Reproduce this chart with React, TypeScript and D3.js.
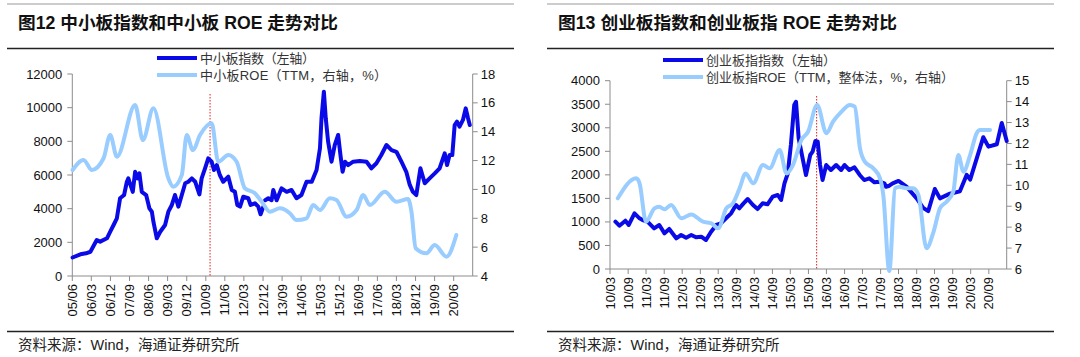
import React from 'react';
import * as d3 from 'd3';

// ---------- 图12 中小板 ----------
const smeIndexDates = [
  '2005-06-05','2005-09-25','2005-12-15','2006-02-16','2006-05-18','2006-07-06','2006-10-12','2006-11-28',
  '2007-01-15','2007-03-03','2007-04-18','2007-06-15','2007-07-25','2007-08-15','2007-10-18','2007-11-21',
  '2007-12-24','2008-01-21','2008-02-24','2008-04-27','2008-06-12','2008-07-18','2008-08-09','2008-09-27',
  '2008-11-15','2009-01-24','2009-03-12','2009-05-01','2009-06-15','2009-08-03','2009-09-21','2009-11-09',
  '2009-12-24','2010-02-12','2010-04-01','2010-06-01','2010-07-03','2010-08-21','2010-10-06','2010-11-24',
  '2010-12-27','2011-02-06','2011-03-21','2011-05-09','2011-07-21','2011-09-09','2011-10-24','2011-11-27',
  '2012-01-06','2012-02-21','2012-05-03','2012-06-06','2012-08-06','2012-09-24','2012-10-27','2012-12-06',
  '2012-12-20',
  '2013-01-01','2013-02-15','2013-04-03','2013-04-27','2013-06-15','2013-08-24','2013-11-06','2014-01-15',
  '2014-03-27','2014-06-06','2014-08-18','2014-11-01','2015-01-09','2015-02-27','2015-03-21','2015-04-24',
  '2015-05-21','2015-06-24','2015-08-12','2015-09-27','2015-11-15','2015-12-18','2016-01-18','2016-02-21',
  '2016-04-06','2016-06-18','2016-09-21','2016-12-27','2017-03-06','2017-05-18','2017-07-27','2017-10-09',
  '2017-12-21','2018-03-01','2018-05-12','2018-07-21','2018-09-09','2018-10-24','2018-12-12','2019-02-09',
  '2019-04-12','2019-06-21','2019-09-03','2019-11-12','2020-01-24','2020-02-27','2020-04-03','2020-05-12',
  '2020-06-15','2020-07-18','2020-08-24','2020-10-12','2020-11-21','2020-12-24','2021-01-18',
];
const smeIndexValues: (number | null)[] = [
  1100, 1290, 1350, 1440, 2140, 2040, 2240, 2630,
  3030, 3430, 4615, 4810, 5600, 5800, 5000, 6190,
  5800, 6100, 5000, 4810, 4020, 3820, 3225, 2240,
  2630, 3030, 3820, 4220, 4810, 4120, 4810, 5510,
  5600, 5800, 5600, 4850, 5800, 6400, 6990, 6790,
  6300, 6590, 6000, 5600, 5900, 5110, 5000, 4220,
  4120, 4710, 4620, 4220, 4320, 4120, 3665, 4120,
  null,
  4500, 4620, 4500, 5110, 4500, 5210, 5000, 5110,
  4620, 4810, 5600, 5600, 6300, 7590, 9370, 10950,
  9370, 7980, 6790, 7780, 8380, 7190, 6190, 6790,
  6590, 6790, 6830, 6790, 6400, 6700, 7190, 7780,
  7480, 7380, 6790, 6190, 5410, 5000, 4810, 6400,
  5510, 5800, 6100, 6400, 7290, 6590, 7190, 7190,
  8970, 9170, 8870, 9270, 9960, 9370, 8970,
];
const smeRoeDates = [
  '2005-06-05','2005-11-10','2006-03-10','2006-08-24','2006-11-28','2007-03-03','2007-11-21','2008-03-10',
  '2008-08-09','2009-03-12','2009-05-21','2009-09-21','2009-12-01','2010-02-27','2010-06-10','2010-11-24',
  '2011-02-27','2011-07-21','2011-11-18','2012-03-15','2012-08-06','2012-11-12','2013-03-09','2013-08-01',
  '2013-12-21','2014-03-27','2014-08-18','2014-11-21','2015-02-27','2015-07-18','2015-10-21','2016-03-15',
  '2016-08-06','2016-11-09','2017-02-12','2017-09-15','2018-03-01','2018-08-15','2018-10-03','2018-12-03',
  '2019-05-06','2019-09-03','2020-02-18','2020-07-09',
];
const smeRoeValues = [
  11.35, 12.04, 11.35, 12.16, 13.77, 12.27, 15.85, 13.42,
  15.62, 10.77, 10.19, 11.0, 13.77, 12.73, 13.77, 14.58,
  11.92, 12.39, 11.92, 10.08, 9.73, 9.15, 8.46, 8.69,
  8.35, 7.88, 8.0, 8.92, 8.57, 9.38, 9.27, 8.11,
  8.57, 9.61, 8.92, 9.84, 9.15, 9.34, 8.46, 5.92,
  5.57, 6.15, 5.34, 6.84,
];
const smeTickLabels = ['05/06','06/03','06/12','07/09','08/06','09/03','09/12','10/09','11/06','12/03','12/12',
  '13/09','14/06','15/03','15/12','16/09','17/06','18/03','18/12','19/09','20/06'];
const smeLeftTicks = [0, 2000, 4000, 6000, 8000, 10000, 12000];
const smeRightTicks = [4, 6, 8, 10, 12, 14, 16, 18];

// ---------- 图13 创业板 ----------
const gemIndexDates = [
  '2010-04-25','2010-06-04','2010-08-04','2010-09-07','2010-11-04','2010-12-25','2011-01-25','2011-03-16',
  '2011-05-22','2011-07-13','2011-09-04','2011-10-22','2012-01-01','2012-02-19','2012-04-10','2012-06-01',
  '2012-07-19','2012-09-10','2012-10-28','2012-12-19','2013-02-10','2013-03-28','2013-05-19','2013-07-10',
  '2013-08-28','2013-10-01','2013-11-13','2013-12-25','2014-02-16','2014-04-04','2014-05-25','2014-07-13',
  '2014-09-04','2014-10-25','2014-11-28','2015-01-01','2015-02-04','2015-03-07','2015-04-10','2015-04-28',
  '2015-05-25','2015-07-04','2015-08-07','2015-09-19','2015-10-13','2015-11-10','2015-12-04','2015-12-28',
  '2016-01-22','2016-02-28','2016-04-16','2016-06-07','2016-07-28','2016-09-01','2016-10-19','2016-12-10',
  '2017-02-01','2017-03-19','2017-05-10','2017-07-01','2017-08-19','2017-10-10','2017-10-25','2017-11-28',
  '2018-01-01','2018-03-01','2018-05-21','2018-09-01','2018-11-06','2018-12-27','2019-03-04','2019-04-25',
  '2019-08-04','2019-11-13','2020-01-21','2020-02-25','2020-07-07','2020-08-28','2020-11-21','2021-01-10',
  '2021-03-01',
];
const gemIndexValues = [
  1005, 920, 1026, 935, 1183, 1077, 1041, 1005,
  864, 935, 758, 850, 652, 722, 665, 722,
  673, 686, 616, 792, 935, 970, 1077, 1183,
  1359, 1289, 1395, 1487, 1359, 1274, 1395, 1374,
  1536, 1572, 1466, 1820, 2033, 2634, 3483, 3553,
  2776, 2351, 1997, 2421, 2492, 2719, 2704, 2209,
  1890, 2209, 2103, 2209, 2103, 2209, 2103, 2160,
  1997, 1890, 1926, 1841, 1854, 1820, 1748, 1769,
  1820, 1870, 1750, 1500, 1300, 1230, 1700, 1500,
  1600, 1650, 2000, 1900, 2800, 2600, 2650, 3100,
  2720,
];
const gemRoeDates = [
  '2010-05-19','2010-11-21','2010-12-25','2011-03-01','2011-05-25','2011-07-13','2011-09-04','2011-11-10',
  '2012-02-22','2012-06-01','2012-09-28','2012-12-22','2013-02-28','2013-05-22','2013-07-28','2013-10-04',
  '2013-12-04','2014-02-19','2014-05-28','2014-08-04','2014-11-13','2015-01-22','2015-03-28','2015-06-22',
  '2015-08-28','2015-11-28','2016-03-01','2016-05-07','2016-08-01','2016-10-25','2016-12-13','2017-02-04',
  '2017-03-25','2017-06-19','2017-08-25','2017-09-28','2017-11-28','2018-01-25','2018-03-13','2018-05-21',
  '2018-07-28','2018-09-19','2018-12-10','2019-02-19','2019-04-25','2019-07-01','2019-09-07','2019-10-28',
  '2019-12-19','2020-02-25','2020-05-01','2020-06-04','2020-09-13',
];
const gemRoeValues = [
  9.38, 10.34, 10.10, 8.26, 8.9, 8.98, 8.85, 9.06,
  8.42, 8.61, 8.26, 8.18, 7.95, 8.9, 9.14, 9.86,
  10.57, 10.10, 10.97, 10.81, 11.69, 10.57, 10.97, 12.17,
  12.56, 13.84, 12.49, 13.04, 13.52, 13.84, 13.76, 11.77,
  11.13, 10.81, 10.34, 9.54, 5.9, 9.86, 9.93, 9.86,
  9.86, 9.54, 6.99, 7.78, 8.9, 9.22, 9.70, 11.45,
  10.65, 11.45, 12.49, 12.64, 12.64,
];
const gemTickLabels = ['10/03','10/09','11/03','11/09','12/03','12/09','13/03','13/09','14/03','14/09',
  '15/03','15/09','16/03','16/09','17/03','17/09','18/03','18/09','19/03','19/09','20/03','20/09'];
const gemLeftTicks = [0, 500, 1000, 1500, 2000, 2500, 3000, 3500, 4000];
const gemRightTicks = [6, 7, 8, 9, 10, 11, 12, 13, 14, 15];

const parse = d3.timeParse('%Y-%m-%d');
const parseTick = (s: string) => parse('20' + s.slice(0, 2) + '-' + s.slice(3, 5) + '-01') as Date;

const INDEX_COLOR = '#0a0ae8';
const ROE_COLOR = '#99ccff';
const AXIS_COLOR = '#8c8c8c';
const LABEL_FONT = '"Liberation Sans", Arial, "Noto Sans CJK SC", sans-serif';
const CJK_FONT = '"Liberation Sans", "Noto Sans CJK SC", sans-serif';

type PanelProps = {
  ox: number;
  title: string;
  titleWidth: number;
  legend1: string;
  legend2: string;
  legend1Width: number;
  legend2Width: number;
  legendX: number;
  legendY1: number;
  legendY2: number;
  idxDates: string[];
  idxVals: (number | null)[];
  roeDates: string[];
  roeVals: number[];
  xStart: string;
  xEnd: string;
  xLeft: number;
  xRight: number;
  yTop: number;
  yBottom: number;
  leftTicks: number[];
  rightTicks: number[];
  tickLabels: string[];
  marker: string;
  markerTop: number;
};

function Panel(p: PanelProps) {
  const x = d3.scaleTime().domain([parse(p.xStart) as Date, parse(p.xEnd) as Date]).range([p.xLeft, p.xRight]);
  const yL = d3.scaleLinear().domain([p.leftTicks[0], p.leftTicks[p.leftTicks.length - 1]]).range([p.yBottom, p.yTop]);
  const yR = d3.scaleLinear().domain([p.rightTicks[0], p.rightTicks[p.rightTicks.length - 1]]).range([p.yBottom, p.yTop]);

  const idxData = p.idxDates.map((d, i) => ({ d: parse(d) as Date, v: p.idxVals[i] }));
  const roeData = p.roeDates.map((d, i) => ({ d: parse(d) as Date, v: p.roeVals[i] }));

  const idxLine = d3.line<{ d: Date; v: number | null }>()
    .defined((e) => e.v !== null)
    .x((e) => x(e.d))
    .y((e) => yL(e.v as number))
    .curve(d3.curveLinear);
  const roeLine = d3.line<{ d: Date; v: number }>()
    .x((e) => x(e.d))
    .y((e) => yR(e.v))
    .curve(d3.curveMonotoneX);

  const mx = x(parse(p.marker) as Date);
  const ox = p.ox;

  return (
    <g>
      {/* header rules and title */}
      <line x1={ox + 7} x2={ox + 514} y1={4} y2={4} stroke="#9a9a9a" strokeWidth={1} />
      <text x={ox + 18} y={23} fontFamily={CJK_FONT} fontSize={17.5} fontWeight={700} fill="#111"
        dominantBaseline="central" textLength={p.titleWidth} lengthAdjust="spacingAndGlyphs">
        {p.title}
      </text>
      <line x1={ox + 7} x2={ox + 514} y1={48.5} y2={48.5} stroke="#222" strokeWidth={1.3} />

      {/* legend */}
      <line x1={p.legendX} x2={p.legendX + 40} y1={p.legendY1} y2={p.legendY1} stroke={INDEX_COLOR} strokeWidth={4} />
      <text x={p.legendX + 43} y={p.legendY1} fontFamily={CJK_FONT} fontSize={13} fill="#333"
        dominantBaseline="central" textLength={p.legend1Width} lengthAdjust="spacing">{p.legend1}</text>
      <line x1={p.legendX} x2={p.legendX + 40} y1={p.legendY2} y2={p.legendY2} stroke={ROE_COLOR} strokeWidth={4} />
      <text x={p.legendX + 43} y={p.legendY2} fontFamily={CJK_FONT} fontSize={13} fill="#333"
        dominantBaseline="central" textLength={p.legend2Width} lengthAdjust="spacing">{p.legend2}</text>

      {/* axes */}
      <line x1={p.xLeft} x2={p.xLeft} y1={p.yTop} y2={p.yBottom} stroke={AXIS_COLOR} strokeWidth={1} />
      <line x1={p.xRight} x2={p.xRight} y1={p.yTop} y2={p.yBottom} stroke={AXIS_COLOR} strokeWidth={1} />
      <line x1={p.xLeft} x2={p.xRight} y1={p.yBottom} y2={p.yBottom} stroke={AXIS_COLOR} strokeWidth={1} />
      {p.leftTicks.map((t) => (
        <g key={'l' + t}>
          <line x1={p.xLeft - 5} x2={p.xLeft} y1={yL(t)} y2={yL(t)} stroke={AXIS_COLOR} />
          <text x={p.xLeft - 10} y={yL(t)} textAnchor="end" dominantBaseline="central" fontFamily={LABEL_FONT} fontSize={13} fill="#111">{t}</text>
        </g>
      ))}
      {p.rightTicks.map((t) => (
        <g key={'r' + t}>
          <line x1={p.xRight} x2={p.xRight + 5} y1={yR(t)} y2={yR(t)} stroke={AXIS_COLOR} />
          <text x={p.xRight + 8} y={yR(t)} textAnchor="start" dominantBaseline="central" fontFamily={LABEL_FONT} fontSize={13} fill="#111">{t}</text>
        </g>
      ))}
      {p.tickLabels.map((lab) => {
        const tx = x(parseTick(lab));
        return (
          <g key={'x' + lab}>
            <line x1={tx} x2={tx} y1={p.yBottom} y2={p.yBottom + 5} stroke={AXIS_COLOR} />
            <text
              transform={`translate(${tx},${p.yBottom + 8}) rotate(-90)`}
              textAnchor="end"
              dominantBaseline="central"
              fontFamily={LABEL_FONT}
              fontSize={13}
              fill="#111"
            >
              {lab}
            </text>
          </g>
        );
      })}

      {/* marker */}
      <line x1={mx} x2={mx} y1={p.markerTop} y2={p.yBottom} stroke="#e02020" strokeWidth={1} strokeDasharray="1.5,1.5" />

      {/* series */}
      <path d={idxLine(idxData) || ''} fill="none" stroke={INDEX_COLOR} strokeWidth={4} strokeLinejoin="round" strokeLinecap="round" />
      <path d={roeLine(roeData) || ''} fill="none" stroke={ROE_COLOR} strokeWidth={4} strokeLinejoin="round" strokeLinecap="round" />

      {/* source */}
      <line x1={ox + 7} x2={ox + 514} y1={331.5} y2={331.5} stroke="#222" strokeWidth={1.3} />
      <text x={ox + 18} y={345} fontFamily={CJK_FONT} fontSize={14.5} fill="#222" dominantBaseline="central">资料来源：Wind，海通证券研究所</text>
    </g>
  );
}

export default function App() {
  return (
    <svg width={1080} height={357} style={{ position: 'absolute', left: 0, top: 0, background: '#fff' }}>
      <rect x={0} y={0} width={1080} height={357} fill="#fff" />
      <Panel
        ox={0}
        title="图12 中小板指数和中小板 ROE 走势对比"
        titleWidth={320}
        legend1="中小板指数（左轴）"
        legend2="中小板ROE（TTM，右轴，%）"
        legend1Width={115}
        legend2Width={187}
        legendX={157}
        legendY1={58}
        legendY2={75}
        idxDates={smeIndexDates}
        idxVals={smeIndexValues}
        roeDates={smeRoeDates}
        roeVals={smeRoeValues}
        xStart="2005-06-01"
        xEnd="2021-03-01"
        xLeft={72.3}
        xRight={472.7}
        yTop={74}
        yBottom={276}
        leftTicks={smeLeftTicks}
        rightTicks={smeRightTicks}
        tickLabels={smeTickLabels}
        marker="2010-11-01"
        markerTop={94}
      />
      <Panel
        ox={540}
        title="图13 创业板指数和创业板指 ROE 走势对比"
        titleWidth={339}
        legend1="创业板指指数（左轴）"
        legend2="创业板指ROE（TTM，整体法，%，右轴）"
        legend1Width={130}
        legend2Width={248}
        legendX={663}
        legendY1={60}
        legendY2={77}
        idxDates={gemIndexDates}
        idxVals={gemIndexValues}
        roeDates={gemRoeDates}
        roeVals={gemRoeValues}
        xStart="2010-03-01"
        xEnd="2021-03-01"
        xLeft={610}
        xRight={1006.7}
        yTop={80.7}
        yBottom={269}
        leftTicks={gemLeftTicks}
        rightTicks={gemRightTicks}
        tickLabels={gemTickLabels}
        marker="2015-11-23"
        markerTop={96}
      />
    </svg>
  );
}
